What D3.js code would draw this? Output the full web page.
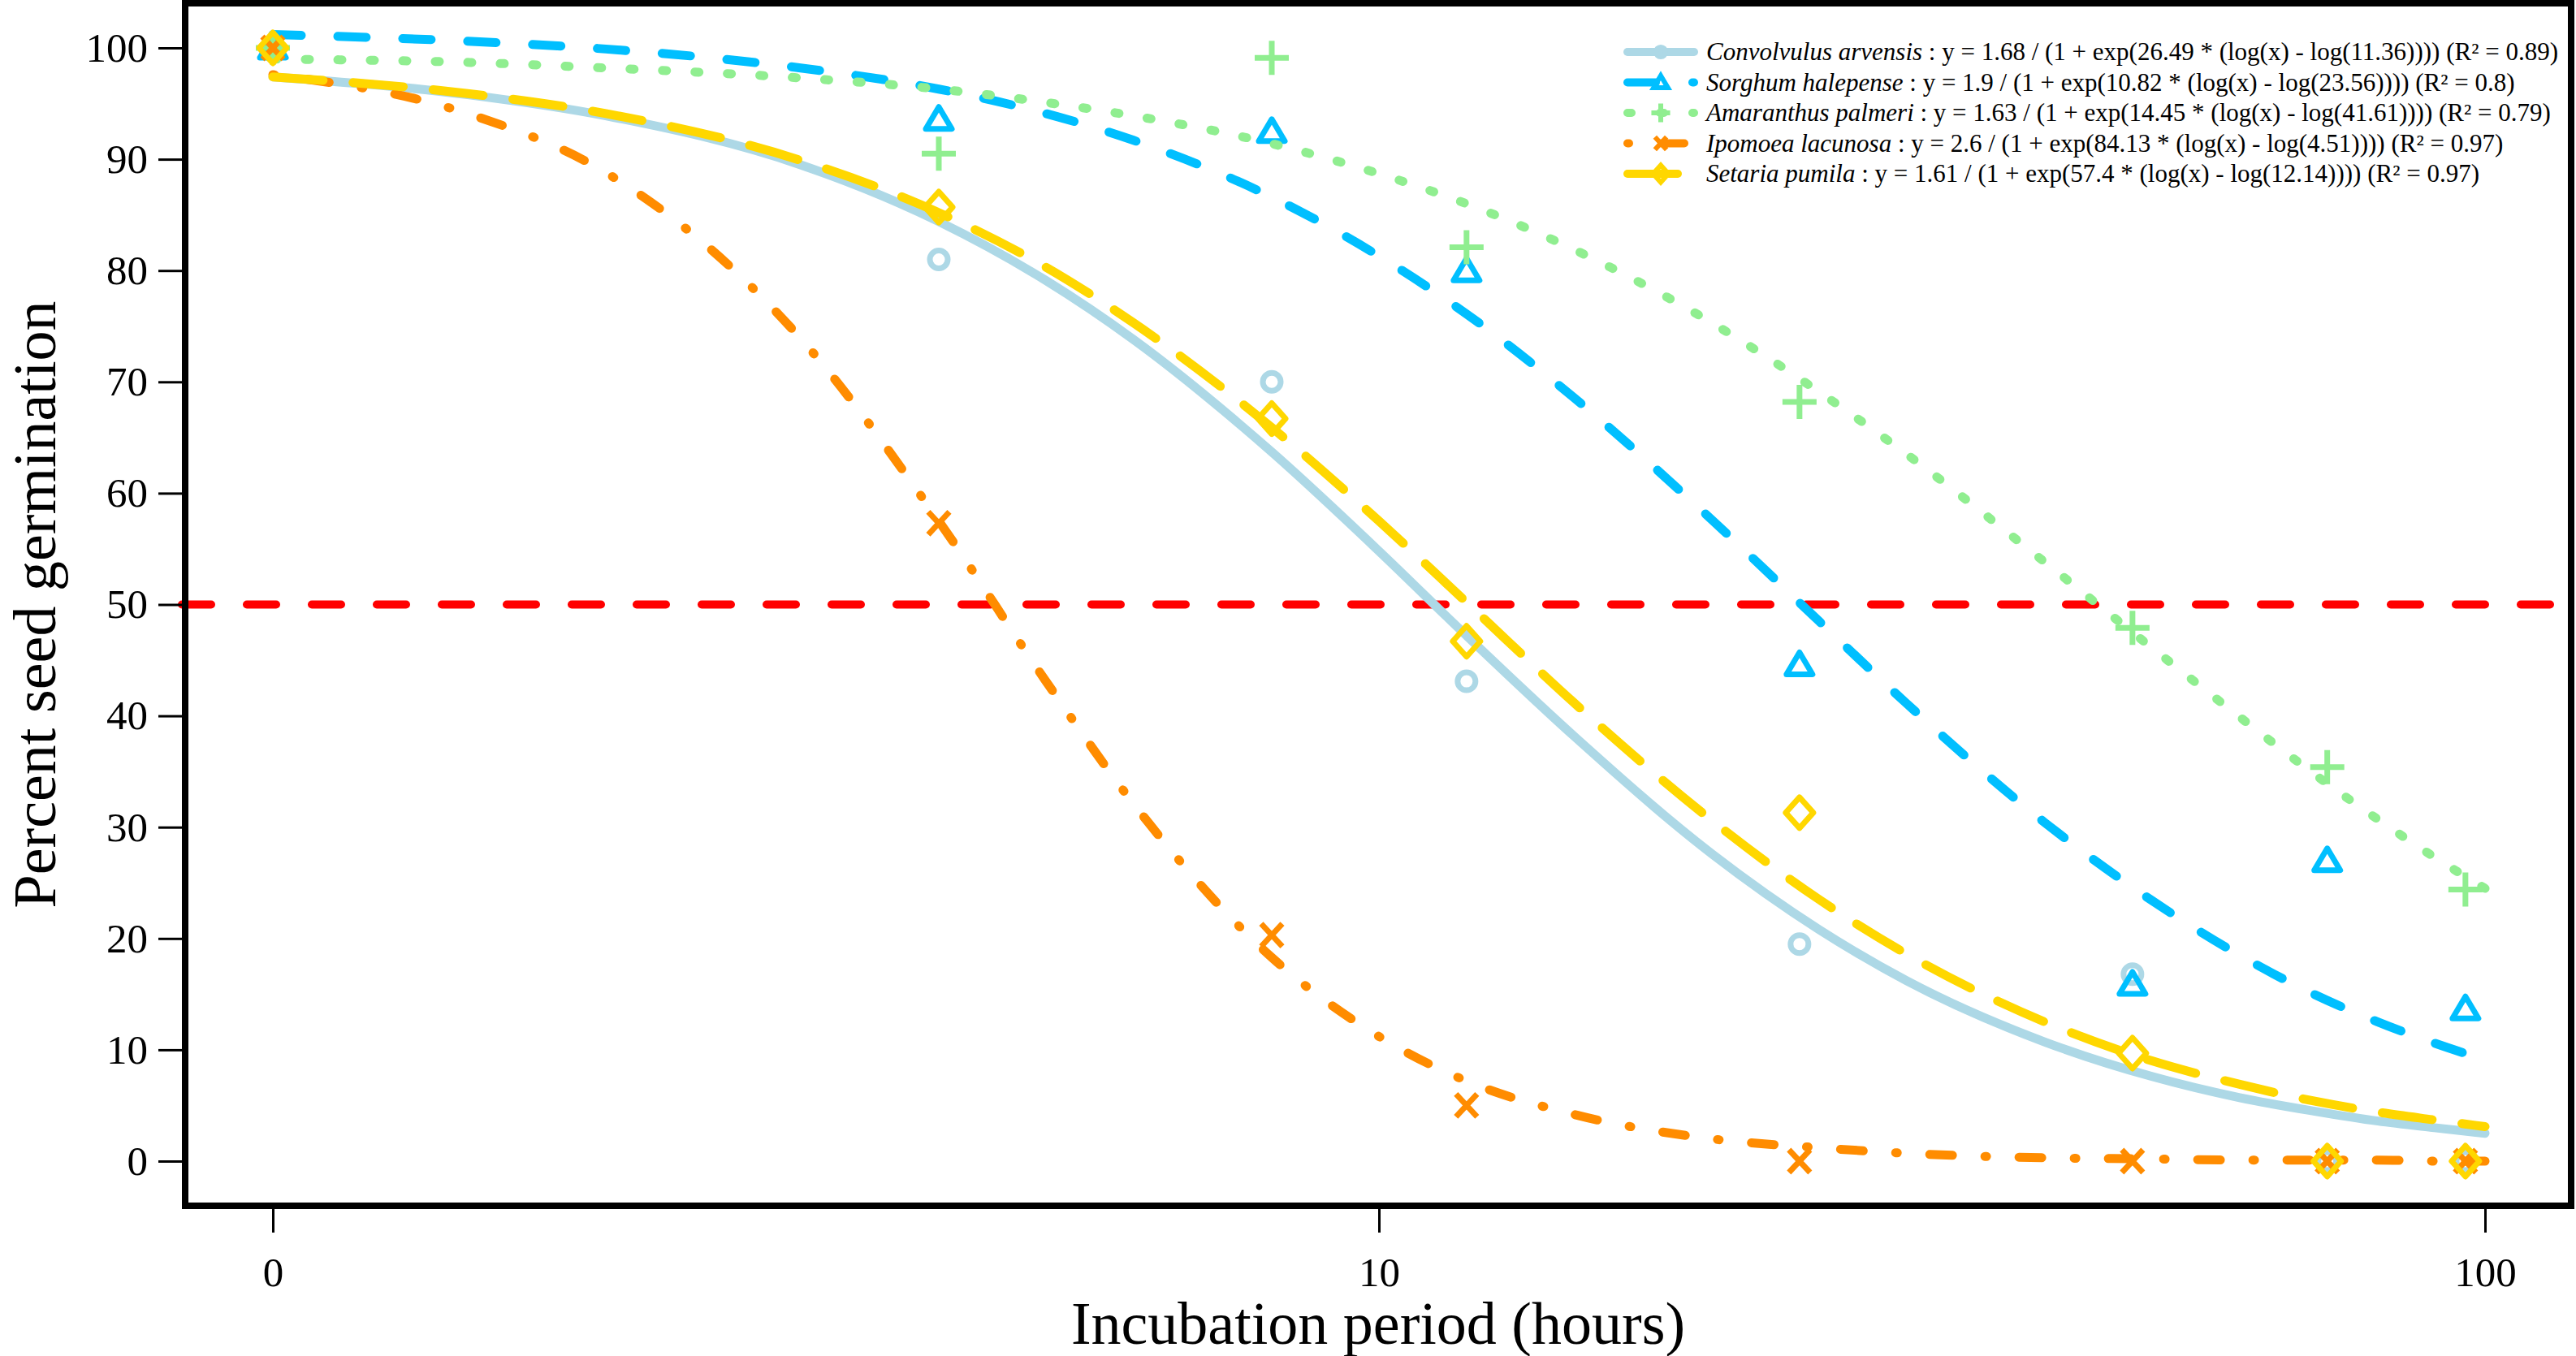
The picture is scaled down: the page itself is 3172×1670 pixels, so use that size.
<!DOCTYPE html>
<html>
<head>
<meta charset="utf-8">
<script src="https://cdn.jsdelivr.net/npm/d3@7"></script>
<style>
  body { margin: 0; background: #fff; }
  svg { display: block; font-family: "Liberation Serif", "Times New Roman", serif; }
</style>
</head>
<body>
<svg id="chart" width="3172" height="1670"></svg>
<script>
// observed germination (%) at each incubation period
const hours = [0, 4, 8, 12, 24, 48, 72, 96];
const convolvulus = [100, 81.0, 70.0, 43.1, 19.5, 16.8, 0, 0];
const sorghum = [100, 93.6, 92.5, 80.0, 44.6, 15.9, 27.0, 13.7];
const amaranthus = [100, 90.5, 99.1, 82.1, 68.2, 47.9, 35.4, 24.4];
const ipomoea = [100, 57.3, 20.3, 5.0, 0, 0, 0, 0];
const setaria = [100, 85.7, 66.7, 46.7, 31.3, 9.7, 0, 0];

// fitted curves at these hours
const curveHours = [1, 1.5, 2, 3, 4, 5, 6, 8, 10, 12, 15, 20, 25, 30, 40, 50, 60, 70, 80, 90, 100];
const convolvulusFit = [97.4, 95.8, 93.9, 89.5, 84.4, 79.1, 73.8, 63.7, 54.8, 47.2, 38.2, 27.6, 20.8, 16.2, 10.7, 7.6, 5.7, 4.5, 3.6, 3.0, 2.5];
const sorghumFit = [101.2, 100.6, 99.9, 98.2, 96.3, 94.1, 91.7, 86.6, 81.3, 76.1, 68.6, 57.6, 48.5, 41.1, 30.4, 23.4, 18.5, 15.0, 12.5, 10.6, 9.1];
const amaranthusFit = [99.0, 98.7, 98.2, 97.3, 96.3, 95.1, 93.9, 91.4, 88.7, 86.0, 81.9, 75.3, 69.1, 63.5, 53.8, 46.1, 39.9, 34.8, 30.7, 27.3, 24.5];
const ipomoeaFit = [97.6, 94.1, 88.8, 73.9, 57.5, 43.1, 32.1, 18.3, 11.2, 7.2, 4.2, 2.0, 1.2, 0.7, 0.3, 0.2, 0.1, 0.1, 0.1, 0.0, 0.0];
const setariaFit = [97.4, 95.9, 94.1, 89.9, 85.2, 80.3, 75.3, 65.9, 57.5, 50.2, 41.2, 30.6, 23.5, 18.6, 12.5, 9.0, 6.9, 5.4, 4.4, 3.7, 3.1];

const species = ["Convolvulus arvensis", "Sorghum halepense", "Amaranthus palmeri", "Ipomoea lacunosa", "Setaria pumila"];
const equations = [
  " : y = 1.68 / (1 + exp(26.49 * (log(x) - log(11.36)))) (R\u00b2 = 0.89)",
  " : y = 1.9 / (1 + exp(10.82 * (log(x) - log(23.56)))) (R\u00b2 = 0.8)",
  " : y = 1.63 / (1 + exp(14.45 * (log(x) - log(41.61)))) (R\u00b2 = 0.79)",
  " : y = 2.6 / (1 + exp(84.13 * (log(x) - log(4.51)))) (R\u00b2 = 0.97)",
  " : y = 1.61 / (1 + exp(57.4 * (log(x) - log(12.14)))) (R\u00b2 = 0.97)"
];
const yTicks = [0, 10, 20, 30, 40, 50, 60, 70, 80, 90, 100];
const xTicks = [1, 10, 100];
const xTickLabels = ["0", "10", "100"];
const threshold = 50;

const observed = [convolvulus, sorghum, amaranthus, ipomoea, setaria];
const fitted = [convolvulusFit, sorghumFit, amaranthusFit, ipomoeaFit, setariaFit];
const colors = ["#add8e6", "#00bfff", "#90ee90", "#ff8c00", "#ffd700"];
const dashes = [null, "35 45", "5 35", "2 40 28 40", "62 37"];
const shapes = ["circle", "triangle", "plus", "cross", "diamond"];

const svg = d3.select("#chart");
const box = { left: 224, top: 0, right: 3170, bottom: 1489 };

const x = d3.scaleLog().domain([1, 100]).range([336, 3060]);
const y = d3.scaleLinear().domain([0, 100]).range([1430, 59]);
const xh = h => x(h === 0 ? 1 : h);

// marker paths, size s = 1 in plot
function marker(shape, s) {
  const p = d3.path();
  if (shape === "circle") {
    p.arc(0, 0, 11 * s, 0, 2 * Math.PI);
  } else if (shape === "triangle") {
    p.moveTo(0, -15 * s); p.lineTo(16 * s, 12 * s); p.lineTo(-16 * s, 12 * s); p.closePath();
  } else if (shape === "plus") {
    p.moveTo(-21 * s, 0); p.lineTo(21 * s, 0); p.moveTo(0, -21 * s); p.lineTo(0, 21 * s);
  } else if (shape === "cross") {
    p.moveTo(-13 * s, -14 * s); p.lineTo(13 * s, 14 * s); p.moveTo(13 * s, -14 * s); p.lineTo(-13 * s, 14 * s);
  } else {
    p.moveTo(0, -19 * s); p.lineTo(17 * s, 0); p.lineTo(0, 19 * s); p.lineTo(-17 * s, 0); p.closePath();
  }
  return p.toString();
}

// 50% reference line
svg.append("line")
  .attr("x1", box.left).attr("x2", box.right)
  .attr("y1", y(threshold)).attr("y2", y(threshold))
  .attr("stroke", "#ff0000").attr("stroke-width", 10)
  .attr("stroke-dasharray", "36 44").attr("stroke-linecap", "round");

const line = d3.line()
  .x((d, i) => x(curveHours[i]))
  .y(d => y(d))
  .curve(d3.curveMonotoneX);

observed.forEach((vals, k) => {
  svg.append("path")
    .attr("d", line(fitted[k]))
    .attr("fill", "none")
    .attr("stroke", colors[k])
    .attr("stroke-width", 11)
    .attr("stroke-linecap", "round")
    .attr("stroke-dasharray", dashes[k]);

  svg.append("g").selectAll("path")
    .data(vals)
    .join("path")
    .attr("transform", (d, i) => `translate(${xh(hours[i])},${y(d)})`)
    .attr("d", marker(shapes[k], 1))
    .attr("fill", "none")
    .attr("stroke", colors[k])
    .attr("stroke-width", 7)
    .attr("stroke-linejoin", "round");
});

// frame
svg.append("rect")
  .attr("x", box.left + 4).attr("y", box.top + 4)
  .attr("width", box.right - box.left - 8).attr("height", box.bottom - box.top - 8)
  .attr("fill", "none").attr("stroke", "#000").attr("stroke-width", 8);

// axes
const yAxis = svg.append("g")
  .attr("transform", `translate(${box.left},0)`)
  .call(d3.axisLeft(y).tickValues(yTicks).tickSize(29).tickPadding(13));
const xAxis = svg.append("g")
  .attr("transform", `translate(0,${box.bottom})`)
  .call(d3.axisBottom(x).tickValues(xTicks).tickSize(29).tickPadding(30)
    .tickFormat((d, i) => xTickLabels[i]));
[yAxis, xAxis].forEach(g => {
  g.select(".domain").remove();
  g.selectAll(".tick line").attr("stroke", "#000").attr("stroke-width", 3);
  g.selectAll(".tick text").attr("fill", "#000")
    .style("font-family", "'Liberation Serif', serif").style("font-size", "51px");
});

svg.append("text")
  .attr("x", (box.left + box.right) / 2).attr("y", 1655)
  .attr("text-anchor", "middle").style("font-size", "74px")
  .text("Incubation period (hours)");
svg.append("text")
  .attr("transform", `translate(68,${(box.top + box.bottom) / 2}) rotate(-90)`)
  .attr("text-anchor", "middle").style("font-size", "74px")
  .text("Percent seed germination");

// legend
const legend = svg.append("g");
species.forEach((name, k) => {
  const row = legend.append("g").attr("transform", `translate(0,${64 + 37.5 * k})`);
  row.append("line")
    .attr("x1", 2004).attr("x2", 2086)
    .attr("stroke", colors[k]).attr("stroke-width", 10)
    .attr("stroke-linecap", "round")
    .attr("stroke-dasharray", dashes[k]);
  row.append("path")
    .attr("transform", "translate(2045,0)")
    .attr("d", marker(shapes[k], 0.55))
    .attr("fill", "none").attr("stroke", colors[k]).attr("stroke-width", 6);
  const t = row.append("text").attr("x", 2101).attr("dy", "0.33em").style("font-size", "31px");
  t.append("tspan").style("font-style", "italic").text(name);
  t.append("tspan").text(equations[k]);
});
</script>
</body>
</html>
